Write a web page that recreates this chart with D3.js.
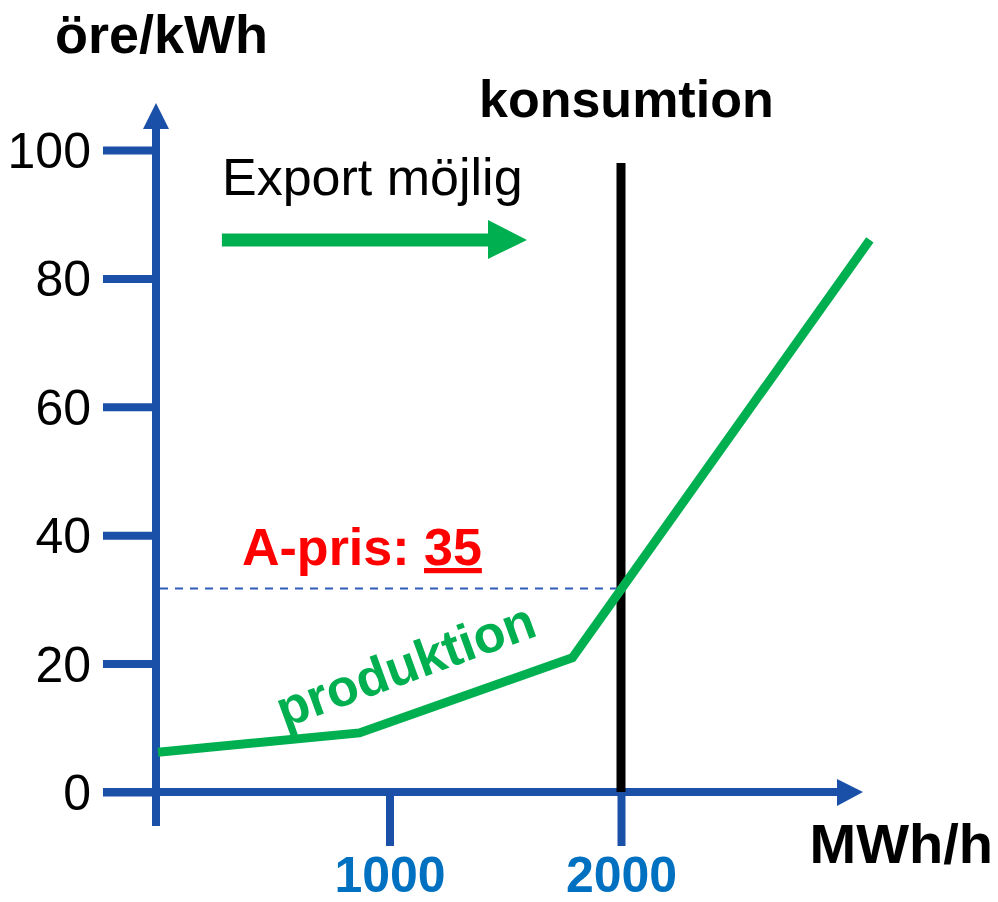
<!DOCTYPE html>
<html>
<head>
<meta charset="utf-8">
<script src="https://cdn.jsdelivr.net/npm/d3@7"></script>
<style>
  body { margin: 0; background: white; }
  svg { display: block; font-family: "Liberation Sans", Arial, sans-serif; }
</style>
</head>
<body>
<script>
// values
const supplyMW = [0, 870, 1790, 3075]
const supplyPrice = [6.2, 9.2, 20.9, 86]
const consumptionMW = 2000
const priceLevel = 31.7
const priceLabel = '35'
const yTicks = [0, 20, 40, 60, 80, 100]
const xTicks = [1000, 2000]
const exportArrowMW = [276, 1594]
const exportArrowPrice = 86

const blue = '#1a50a8'
const green = '#00b050'

const width = 998, height = 902

const svg = d3.select('body').append('svg')
    .attr('width', width)
    .attr('height', height)

const x = d3.scaleLinear().domain([0, 2000]).range([158, 621])
const y = d3.scaleLinear().domain([0, 100]).range([792, 150])

const originX = 156
const originY = y(0)

// y axis ticks + labels
const yAxis = svg.append('g')
    .attr('transform', `translate(${originX},0)`)
    .call(d3.axisLeft(y).tickValues(yTicks).tickSize(53).tickPadding(12))
yAxis.select('.domain').remove()
yAxis.selectAll('.tick line').attr('stroke', blue).attr('stroke-width', 8)
yAxis.selectAll('.tick text')
    .attr('fill', 'black')
    .style('font-size', '50px')
    .attr('dy', '0.35em')

// x axis ticks + labels
const xAxis = svg.append('g')
    .attr('transform', `translate(0,${originY})`)
    .call(d3.axisBottom(x).tickValues(xTicks).tickSize(54).tickPadding(10).tickFormat(d3.format('d')))
xAxis.select('.domain').remove()
xAxis.selectAll('.tick line').attr('stroke', blue).attr('stroke-width', 8)
xAxis.selectAll('.tick text')
    .attr('fill', '#0070c0')
    .style('font-size', '50px')
    .style('font-weight', 'bold')

// axis lines with arrow heads
svg.append('line')
    .attr('x1', originX).attr('x2', originX)
    .attr('y1', 826).attr('y2', 126)
    .attr('stroke', blue).attr('stroke-width', 8)
svg.append('path')
    .attr('d', `M${originX},103 L${originX - 13},129 L${originX + 13},129 Z`)
    .attr('fill', blue)

svg.append('line')
    .attr('x1', 103).attr('x2', 840)
    .attr('y1', originY).attr('y2', originY)
    .attr('stroke', blue).attr('stroke-width', 8)
svg.append('path')
    .attr('d', `M863,${originY} L837,${originY - 13} L837,${originY + 14} Z`)
    .attr('fill', blue)

// price level dashed line
svg.append('line')
    .attr('x1', originX + 4).attr('x2', x(consumptionMW))
    .attr('y1', y(priceLevel)).attr('y2', y(priceLevel))
    .attr('stroke', '#2e5cb8').attr('stroke-width', 2)
    .attr('stroke-dasharray', '8,7')

// consumption line
svg.append('line')
    .attr('x1', x(consumptionMW)).attr('x2', x(consumptionMW))
    .attr('y1', 163).attr('y2', originY)
    .attr('stroke', 'black').attr('stroke-width', 9)

// production curve
const supply = supplyMW.map((d, i) => ({mw: d, price: supplyPrice[i]}))
svg.append('path')
    .datum(supply)
    .attr('d', d3.line().x(d => x(d.mw)).y(d => y(d.price)))
    .attr('fill', 'none')
    .attr('stroke', green)
    .attr('stroke-width', 9)

// export arrow
const ax0 = x(exportArrowMW[0]), ax1 = x(exportArrowMW[1]), ay = y(exportArrowPrice)
svg.append('line')
    .attr('x1', ax0).attr('x2', ax1 - 38)
    .attr('y1', ay).attr('y2', ay)
    .attr('stroke', green).attr('stroke-width', 13)
svg.append('path')
    .attr('d', `M${ax1},${ay} L${ax1 - 39},${ay - 20} L${ax1 - 39},${ay + 19} Z`)
    .attr('fill', green)

// texts
svg.append('text')
    .attr('x', 55).attr('y', 53)
    .style('font-size', '54px').style('font-weight', 'bold')
    .text('öre/kWh')

svg.append('text')
    .attr('x', 479).attr('y', 117)
    .style('font-size', '52px').style('font-weight', 'bold')
    .text('konsumtion')

svg.append('text')
    .attr('x', 222).attr('y', 195)
    .style('font-size', '52px')
    .text('Export möjlig')

svg.append('text')
    .attr('x', 993).attr('y', 863)
    .attr('text-anchor', 'end')
    .style('font-size', '56px').style('font-weight', 'bold')
    .text('MWh/h')

const apris = svg.append('text')
    .attr('x', 242).attr('y', 565)
    .attr('fill', '#ff0000')
    .style('font-size', '52px').style('font-weight', 'bold')
apris.append('tspan').text('A-pris: ')
apris.append('tspan').style('text-decoration', 'underline').text(priceLabel)

svg.append('text')
    .attr('transform', 'translate(284,728) rotate(-20)')
    .attr('fill', green)
    .style('font-size', '52px').style('font-weight', 'bold')
    .text('produktion')
</script>
</body>
</html>
